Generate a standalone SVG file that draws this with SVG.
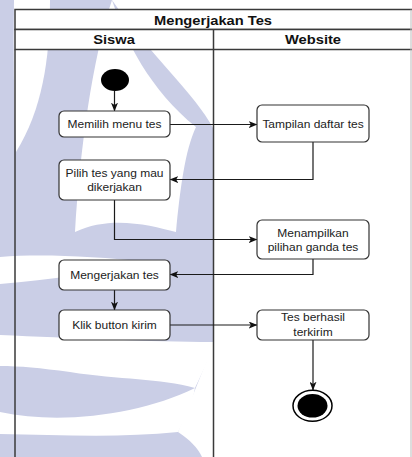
<svg xmlns="http://www.w3.org/2000/svg" width="412" height="457" viewBox="0 0 412 457">
  <defs>
    <marker id="arrow" viewBox="0 0 10 8" refX="9.5" refY="4" markerWidth="9" markerHeight="7" markerUnits="userSpaceOnUse" orient="auto">
      <path d="M0,0 L10,4 L0,8 L2.5,4 Z" fill="#111"/>
    </marker>
    <style>
      .frame { fill: none; stroke: #3a3a3a; stroke-width: 1.5; }
      .head { fill: #fff; stroke: #3a3a3a; stroke-width: 1.5; }
      .box { fill: #fff; stroke: #333; stroke-width: 1.2; }
      .edge { fill: none; stroke: #1a1a1a; stroke-width: 1.2; marker-end: url(#arrow); }
      .title { font-family: "Liberation Sans", Arial, sans-serif; font-weight: bold; font-size: 13px; fill: #111; text-anchor: middle; }
      .label { font-family: "Liberation Sans", Arial, sans-serif; font-size: 10px; fill: #222; text-anchor: middle; }
      .wm { fill: #cacee6; }
      .wm-gap { fill: #ffffff; }
    </style>
  </defs>

  <rect width="412" height="457" fill="#fff"/>

  <!-- background emblem -->
  <g id="emblem">
    <path class="wm" d="M0,0 L112,0 C150,55 196,95 213,128 L213,345 L195,390 L178,432 C190,440 198,448 202,457 L0,457 Z"/>
    <!-- light arcs cutting through the emblem -->
    <path class="wm-gap" d="M14,0 L50,0 C50,60 42,110 16,152 C14,100 13,50 14,0 Z"/>
    <path class="wm-gap" d="M112,0 C125,40 150,90 196,127 C185,150 180,190 176,232 C150,225 110,215 75,232 C80,150 92,60 112,0 Z"/>
    <path class="wm-gap" d="M0,257 C40,254 90,256 150,262 C100,272 50,280 0,284 Z"/>
    <path class="wm-gap" d="M0,335 C70,338 150,342 213,342 L213,352 C205,365 200,378 195,388 C160,378 120,380 70,372 C40,368 20,366 0,366 Z"/>
    <path class="wm-gap" d="M0,412 C60,425 140,415 195,388 C192,405 185,420 178,432 C120,438 60,435 0,434 Z"/>
  </g>

  <!-- swimlane frame -->
  <g id="lanes">
    <rect class="head" x="15" y="9.5" width="400" height="20"/>
    <rect class="head" x="15" y="29.5" width="400" height="20"/>
    <line class="frame" x1="15" y1="49.5" x2="15" y2="457"/>
    <line class="frame" x1="213.5" y1="29.5" x2="213.5" y2="457" stroke="#555"/>
    <line x1="411" y1="9.5" x2="411" y2="457" stroke="#bbb" stroke-width="1"/>
    <text class="title" transform="translate(213,24.5) scale(1.13,1)">Mengerjakan Tes</text>
    <text class="title" transform="translate(114,44) scale(1.13,1)">Siswa</text>
    <text class="title" transform="translate(313,44) scale(1.13,1)">Website</text>
  </g>

  <!-- connectors -->
  <g id="connectors">
    <line class="edge" x1="114.5" y1="91" x2="114.5" y2="111"/>
    <line class="edge" x1="170" y1="124.5" x2="257" y2="124.5"/>
    <polyline class="edge" points="313,142 313,179.5 170,179.5"/>
    <polyline class="edge" points="114.5,200 114.5,239.5 257,239.5"/>
    <polyline class="edge" points="313,259 313,274.5 170,274.5"/>
    <line class="edge" x1="114.5" y1="290" x2="114.5" y2="310"/>
    <line class="edge" x1="170" y1="325" x2="257" y2="325"/>
    <line class="edge" x1="313" y1="340" x2="313" y2="390"/>
  </g>

  <g id="start">
    <ellipse cx="115" cy="80" rx="14" ry="11" fill="#000"/>
  </g>

  <g id="memilih-menu">
    <rect class="box" x="59" y="111" width="111" height="26" rx="5"/>
    <text class="label" transform="translate(114.5,127.5) scale(1.2,1)">Memilih menu tes</text>
  </g>

  <g id="tampilan-daftar">
    <rect class="box" x="257" y="105" width="112" height="37" rx="5"/>
    <text class="label" transform="translate(313,127.5) scale(1.2,1)">Tampilan daftar tes</text>
  </g>

  <g id="pilih-tes">
    <rect class="box" x="59" y="160" width="111" height="40" rx="5"/>
    <text class="label" transform="translate(114.5,176.5) scale(1.2,1)">Pilih tes yang mau</text>
    <text class="label" transform="translate(114.5,191) scale(1.2,1)">dikerjakan</text>
  </g>

  <g id="menampilkan-pilihan">
    <rect class="box" x="257" y="220" width="112" height="39" rx="5"/>
    <text class="label" transform="translate(313,236.7) scale(1.2,1)">Menampilkan</text>
    <text class="label" transform="translate(313,251) scale(1.2,1)">pilihan ganda tes</text>
  </g>

  <g id="mengerjakan-tes">
    <rect class="box" x="59" y="260" width="111" height="30" rx="5"/>
    <text class="label" transform="translate(114.5,278.5) scale(1.2,1)">Mengerjakan tes</text>
  </g>

  <g id="klik-kirim">
    <rect class="box" x="59" y="310" width="111" height="30" rx="5"/>
    <text class="label" transform="translate(114.5,328.5) scale(1.2,1)">Klik button kirim</text>
  </g>

  <g id="tes-terkirim">
    <rect class="box" x="257" y="310" width="112" height="30" rx="5"/>
    <text class="label" transform="translate(313,321) scale(1.2,1)">Tes berhasil</text>
    <text class="label" transform="translate(313,336) scale(1.2,1)">terkirim</text>
  </g>

  <g id="end">
    <ellipse cx="312.5" cy="405.8" rx="19.5" ry="15.5" fill="#fff" stroke="#000" stroke-width="1.5"/>
    <ellipse cx="312.5" cy="405.8" rx="15" ry="11.8" fill="#000"/>
  </g>
</svg>
